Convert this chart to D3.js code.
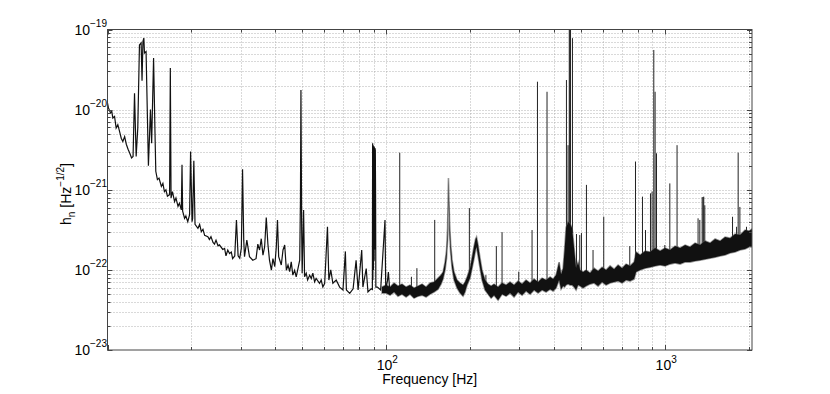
<!DOCTYPE html>
<html>
<head>
<meta charset="utf-8">
<title>Strain noise spectrum</title>
<script src="https://d3js.org/d3.v7.min.js"></script>
<style>
  body { margin: 0; background: #fff; }
  svg text { font-family: "Liberation Sans", Arial, Helvetica, sans-serif; fill: #000; }
</style>
</head>
<body>
<svg id="chart" width="830" height="394"></svg>
<script>
// low frequency trace, [frequency Hz, h_n] (10 - 103 Hz)
var trace = [
  [10.0, 1.21e-20], [10.08, 1.05e-20], [10.25, 9.1e-21], [10.36, 9.5e-21], [10.45, 7.85e-21],
  [10.6, 8.2e-21], [10.74, 5.9e-21], [10.89, 6.5e-21], [11.04, 5.4e-21], [11.2, 4.4e-21],
  [11.35, 4.0e-21], [11.52, 4.6e-21], [11.68, 3.7e-21], [11.85, 3.2e-21], [12.0, 2.9e-21],
  [12.2, 2.5e-21], [12.35, 2.6e-21], [12.5, 1.6e-20], [12.6, 5.4e-21], [12.67, 2.6e-21],
  [12.84, 5.9e-21], [13.02, 6.4e-20], [13.2, 6.8e-20], [13.3, 2.3e-20], [13.4, 7.1e-20],
  [13.5, 7.8e-20], [13.57, 5.1e-20], [13.75, 5.3e-20], [14.02, 2.0e-21], [14.26, 1.0e-20],
  [14.4, 3.8e-21], [14.63, 4.4e-20], [14.79, 5.9e-21], [14.9, 1.7e-21], [15.1, 1.34e-21],
  [15.3, 1.4e-21], [15.6, 1.1e-21], [15.8, 1.2e-21], [16.0, 9.5e-22], [16.2, 1.0e-21],
  [16.4, 8.3e-22], [16.7, 8.7e-22], [16.8, 3.3e-20], [16.9, 7.9e-22], [17.1, 9.5e-22],
  [17.4, 7.1e-22], [17.6, 7.9e-22], [17.9, 6.2e-22], [18.1, 6.8e-22], [18.4, 5.6e-22],
  [18.5, 2.05e-21], [18.6, 5.4e-22], [18.9, 4.4e-22], [19.1, 4.7e-22], [19.4, 4.0e-22],
  [19.7, 4.9e-22], [19.86, 3.0e-21], [20.1, 4.0e-22], [20.2, 4.4e-22], [20.4, 2.3e-21],
  [20.6, 3.7e-22], [21.1, 3.3e-22], [21.4, 3.7e-22], [21.7, 3.0e-22], [22.0, 3.2e-22],
  [22.3, 2.7e-22], [22.9, 2.6e-22], [23.2, 2.4e-22], [23.5, 2.6e-22], [23.9, 2.2e-22],
  [24.2, 2.1e-22], [24.5, 2.35e-22], [24.9, 2.0e-22], [25.2, 2.05e-22], [25.9, 1.8e-22],
  [26.3, 1.85e-22], [26.6, 1.5e-22], [27.0, 1.77e-22], [27.4, 1.6e-22], [27.8, 1.67e-22],
  [28.1, 1.38e-22], [28.6, 1.49e-22], [29.0, 4.2e-22], [29.4, 1.5e-22], [29.8, 1.4e-22],
  [30.2, 1.87e-22], [30.5, 1.8e-21], [30.8, 2.35e-22], [31.0, 1.46e-22], [31.6, 2.35e-22],
  [32.3, 1.46e-22], [33.2, 1.32e-22], [34.1, 1.38e-22], [34.6, 2.1e-22], [35.1, 1.77e-22],
  [35.6, 2.45e-22], [36.1, 1.53e-22], [36.6, 1.93e-22], [37.1, 4.5e-22], [37.6, 2.1e-22],
  [38.1, 1.32e-22], [38.7, 9.9e-23], [39.2, 1.38e-22], [39.8, 1.1e-22], [40.3, 1.93e-22],
  [40.7, 4.2e-22], [41.1, 1.46e-22], [42.0, 1.15e-22], [42.6, 1.77e-22], [43.2, 2.04e-22],
  [43.8, 9.9e-23], [44.4, 1.15e-22], [45.0, 9.5e-23], [45.6, 1.26e-22], [46.2, 8.6e-23],
  [46.9, 9.9e-23], [47.5, 8.2e-23], [48.2, 1.04e-22], [48.9, 1.32e-22], [49.2, 7.5e-22],
  [49.4, 1.76e-20], [49.7, 3.1e-22], [49.9, 9.1e-23], [50.5, 5.6e-22], [50.9, 8.2e-23],
  [51.6, 9.1e-23], [52.2, 7.46e-23], [53.1, 8.6e-23], [53.8, 7.8e-23], [54.5, 9.1e-23],
  [55.3, 7.1e-23], [56.0, 7.8e-23], [57.6, 6.8e-23], [58.4, 7.46e-23], [59.2, 6.1e-23],
  [60.1, 6.8e-23], [61.5, 3.45e-22], [62.2, 7.46e-23], [63.2, 1.0e-22], [64.3, 6.8e-23],
  [66.1, 7.46e-23], [68.0, 6.1e-23], [69.9, 5.6e-23], [71.3, 1.7e-22], [71.9, 5.6e-23],
  [73.9, 5.1e-23], [76.0, 5.8e-23], [77.9, 1.32e-22], [79.2, 5.6e-23], [81.6, 1.77e-22],
  [82.4, 6.1e-23], [84.7, 1.04e-22], [85.9, 5.3e-23], [88.2, 5.8e-23], [89.1, 5.7e-23],
  [89.3, 3.8e-21], [89.5, 7.5e-23], [89.7, 3.6e-21], [89.9, 1.0e-22], [90.2, 3.5e-21],
  [90.4, 1.3e-22], [90.6, 3.4e-21], [90.8, 1.8e-22], [91.0, 3.3e-21], [91.3, 3.1e-21],
  [91.5, 8.0e-22], [91.7, 6.1e-23], [92.9, 6.1e-23], [95.4, 5.6e-23], [98.9, 4.2e-22],
  [99.5, 5.6e-23], [101.0, 7.46e-23], [101.7, 9.4e-23], [102.8, 5.6e-23]
];

// dense noise band above ~95 Hz: frequency, upper edge, lower edge
var bandFreq = [96.5, 99.75, 103.1, 106.6, 110.1, 113.8, 117.7, 121.6, 125.7, 130.0,
  134.3, 138.8, 143.5, 148.3, 153.3, 157.1, 159.7, 162.4, 164.4, 165.8,
  166.5, 167.0, 167.6, 168.6, 170.0, 172.1, 174.9, 179.3, 183.8, 188.4,
  191.5, 194.8, 199.6, 203.0, 206.4, 208.9, 210.6, 213.3, 216.8, 220.4,
  225.9, 231.6, 237.5, 243.4, 251.6, 260.0, 268.7, 277.7, 287.1, 296.8,
  306.7, 317.0, 327.7, 338.7, 350.1, 361.8, 374.0, 386.6, 396.3, 406.2,
  416.4, 423.3, 430.4, 435.7, 441.1, 448.5, 456.0, 463.6, 471.3, 479.1,
  487.1, 495.2, 507.6, 520.4, 537.9, 555.9, 574.6, 593.9, 613.8, 634.5,
  655.8, 677.8, 700.6, 724.1, 748.4, 773.6, 786.5, 813.0, 847.3, 883.0,
  920.2, 959.0, 999.2, 1041, 1085, 1131, 1179, 1228, 1280, 1334,
  1390, 1449, 1510, 1574, 1640, 1709, 1781, 1856, 1934, 1999, 2048];
var bandHigh = [6.10e-23, 6.46e-23, 6.10e-23, 6.84e-23, 6.27e-23, 6.64e-23, 6.10e-23, 6.46e-23, 5.92e-23, 6.27e-23,
  6.64e-23, 6.10e-23, 6.84e-23, 7.04e-23, 7.89e-23, 8.60e-23, 9.38e-23, 1.25e-22, 1.77e-22, 3.33e-22,
  7.43e-22, 1.40e-21, 8.59e-22, 3.95e-22, 2.16e-22, 1.32e-22, 9.38e-23, 7.45e-23, 6.84e-23, 6.46e-23,
  7.04e-23, 8.13e-23, 1.05e-22, 1.44e-22, 1.98e-22, 2.43e-22, 2.57e-22, 2.04e-22, 1.40e-22, 9.93e-23,
  7.45e-23, 6.64e-23, 6.27e-23, 6.64e-23, 6.10e-23, 6.84e-23, 6.46e-23, 7.04e-23, 6.46e-23, 7.24e-23,
  6.64e-23, 7.45e-23, 6.84e-23, 7.67e-23, 7.04e-23, 7.89e-23, 7.45e-23, 8.13e-23, 7.67e-23, 8.60e-23,
  1.25e-22, 8.85e-23, 1.05e-22, 1.77e-22, 3.33e-22, 3.95e-22, 3.73e-22, 3.33e-22, 1.87e-22, 1.05e-22,
  1.25e-22, 9.93e-23, 9.38e-23, 9.93e-23, 9.12e-23, 1.05e-22, 9.65e-23, 1.08e-22, 9.93e-23, 1.12e-22,
  1.02e-22, 1.15e-22, 1.05e-22, 1.18e-22, 1.12e-22, 1.25e-22, 1.67e-22, 1.53e-22, 1.72e-22, 1.67e-22,
  1.87e-22, 1.72e-22, 1.87e-22, 1.77e-22, 1.98e-22, 1.87e-22, 2.04e-22, 1.93e-22, 2.16e-22, 2.04e-22,
  2.29e-22, 2.16e-22, 2.43e-22, 2.29e-22, 2.57e-22, 2.49e-22, 2.80e-22, 2.72e-22, 3.14e-22, 3.05e-22, 3.23e-22];
var bandLow = [5.13e-23, 5.13e-23, 4.84e-23, 5.28e-23, 4.70e-23, 4.98e-23, 4.57e-23, 4.98e-23, 4.44e-23, 4.70e-23,
  4.84e-23, 4.57e-23, 4.98e-23, 5.28e-23, 5.75e-23, 6.64e-23, 7.67e-23, 9.93e-23, 1.40e-22, 2.35e-22,
  4.83e-22, 1.11e-21, 5.58e-22, 2.72e-22, 1.67e-22, 1.05e-22, 7.45e-23, 5.92e-23, 5.13e-23, 4.70e-23,
  5.28e-23, 6.46e-23, 7.89e-23, 1.05e-22, 1.40e-22, 1.77e-22, 1.93e-22, 1.49e-22, 1.05e-22, 7.45e-23,
  5.59e-23, 4.98e-23, 4.44e-23, 4.84e-23, 4.19e-23, 4.98e-23, 4.70e-23, 5.13e-23, 4.57e-23, 5.28e-23,
  4.84e-23, 5.43e-23, 4.98e-23, 5.59e-23, 5.13e-23, 5.59e-23, 5.28e-23, 5.75e-23, 5.43e-23, 5.92e-23,
  7.45e-23, 5.75e-23, 6.27e-23, 6.10e-23, 6.46e-23, 6.64e-23, 6.46e-23, 6.46e-23, 6.10e-23, 5.59e-23,
  6.46e-23, 6.27e-23, 5.92e-23, 6.27e-23, 6.64e-23, 6.84e-23, 6.27e-23, 7.04e-23, 6.46e-23, 6.84e-23,
  7.04e-23, 7.24e-23, 6.84e-23, 7.45e-23, 7.24e-23, 7.67e-23, 9.38e-23, 9.93e-23, 1.05e-22, 1.08e-22,
  1.12e-22, 1.15e-22, 1.12e-22, 1.18e-22, 1.22e-22, 1.18e-22, 1.25e-22, 1.25e-22, 1.29e-22, 1.32e-22,
  1.36e-22, 1.40e-22, 1.44e-22, 1.49e-22, 1.53e-22, 1.62e-22, 1.67e-22, 1.77e-22, 1.82e-22, 1.93e-22, 1.93e-22];

// narrow spectral lines above 100 Hz: frequency and peak height
var lineFreq = [111.7, 123, 128.7, 149.1, 198.5, 227.5, 248, 260, 298.4, 333.1,
  348.3, 376.9, 442.5, 448.4, 452.9, 455.1, 457.7, 465.0, 480.7, 493.9,
  500.8, 521.9, 551.1, 602.1, 746.4, 782.5, 829, 850, 885.6, 897.5,
  910.2, 920.1, 930.8, 996.8, 1039, 1103, 1312, 1331, 1357, 1368,
  1375, 1387, 1744, 1803, 1827, 1853, 1957];
var lineTop = [2.9e-21, 8.2e-23, 1.05e-22, 4.2e-22, 5.9e-22, 8.6e-23, 1.98e-22, 2.96e-22, 9.5e-23, 3.14e-22,
  2.23e-20, 1.67e-20, 2.34e-20, 3.6e-21, 1.6e-19, 1.3e-19, 1.2e-19, 7.8e-20, 2.8e-22, 2.72e-22,
  2.88e-22, 1.15e-21, 1.77e-22, 4.6e-22, 1.98e-22, 2.25e-21, 8.2e-22, 3.14e-22, 9.0e-22, 9.5e-22,
  5.55e-20, 1.67e-20, 2.85e-21, 2.04e-22, 1.2e-21, 3.6e-21, 4.4e-22, 4.2e-22, 8.1e-22, 8.1e-22,
  8.2e-22, 6.4e-22, 4.6e-22, 3.45e-22, 2.9e-21, 6.1e-22, 3.45e-22];

var xTickValues = [100, 1000];
var yTickValues = [1e-23, 1e-22, 1e-21, 1e-20, 1e-19];

var plot = {left: 107.5, right: 752, top: 29.5, bottom: 350};

var x = d3.scaleLog().domain([10, 2048]).range([plot.left, plot.right]);
var y = d3.scaleLog().domain([1e-23, 1e-19]).range([plot.bottom, plot.top]);

var svg = d3.select("#chart");

svg.append("defs").append("clipPath").attr("id", "clip")
  .append("rect")
  .attr("x", plot.left).attr("y", plot.top)
  .attr("width", plot.right - plot.left).attr("height", plot.bottom - plot.top);

function isMajor(d) {
  var l = Math.log10(d);
  return Math.abs(l - Math.round(l)) < 1e-6;
}
function snap(v) { return Math.round(v) + 0.5; }

// dotted grid at every major and minor tick
var grid = svg.append("g");
grid.selectAll("line.gx")
  .data(x.ticks().filter(function(d) { return d > 10; }))
  .enter().append("line")
  .attr("x1", function(d) { return snap(x(d)); })
  .attr("x2", function(d) { return snap(x(d)); })
  .attr("y1", plot.top).attr("y2", plot.bottom)
  .attr("stroke", "#a0a0a0").attr("stroke-width", 0.8)
  .attr("stroke-dasharray", "1,2");
grid.selectAll("line.gy")
  .data(y.ticks().filter(function(d) { return d > 1.01e-23 && d < 0.99e-19; }))
  .enter().append("line")
  .attr("y1", function(d) { return snap(y(d)); })
  .attr("y2", function(d) { return snap(y(d)); })
  .attr("x1", plot.left).attr("x2", plot.right)
  .attr("stroke", "#a0a0a0").attr("stroke-width", 0.8)
  .attr("stroke-dasharray", "1,2");

var data = svg.append("g").attr("clip-path", "url(#clip)");

// base of each line = upper edge of the band, looked up through a piecewise scale
var floorAt = d3.scaleLog().domain(bandFreq).range(bandHigh).clamp(true);

data.selectAll("line.spike")
  .data(lineFreq)
  .enter().append("line")
  .attr("x1", function(d) { return x(d); })
  .attr("x2", function(d) { return x(d); })
  .attr("y1", function(d) { return y(floorAt(d)) + 2; })
  .attr("y2", function(d, i) { return y(lineTop[i]); })
  .attr("stroke", "#222").attr("stroke-width", 1);

var area = d3.area()
  .x(function(d, i) { return x(bandFreq[i]); })
  .y0(function(d, i) { return y(bandLow[i]); })
  .y1(function(d, i) { return y(bandHigh[i]); });
// soft outer edge, then the dark core
data.append("path")
  .attr("d", area(bandFreq))
  .attr("fill", "none").attr("stroke", "#555").attr("stroke-opacity", 0.6).attr("stroke-width", 1.6);
data.append("path")
  .attr("d", area(bandFreq))
  .attr("fill", "#111").attr("stroke", "none");

var line = d3.line()
  .x(function(d) { return x(d[0]); })
  .y(function(d) { return y(d[1]); });
data.append("path")
  .attr("d", line(trace))
  .attr("fill", "none").attr("stroke", "#111").attr("stroke-width", 1.2);

// axes box
svg.append("rect")
  .attr("x", plot.left).attr("y", plot.top)
  .attr("width", plot.right - plot.left).attr("height", plot.bottom - plot.top)
  .attr("fill", "none").attr("stroke", "#444").attr("stroke-width", 1);

// inward ticks on all four sides
var ticks = svg.append("g").attr("stroke", "#444").attr("stroke-width", 1);
x.ticks().forEach(function(d) {
  var len = isMajor(d) ? 5 : 3, px = snap(x(d));
  ticks.append("line").attr("x1", px).attr("x2", px).attr("y1", plot.bottom).attr("y2", plot.bottom - len);
  ticks.append("line").attr("x1", px).attr("x2", px).attr("y1", plot.top).attr("y2", plot.top + len);
});
y.ticks().forEach(function(d) {
  var len = isMajor(d) ? 5 : 3, py = snap(y(d));
  ticks.append("line").attr("y1", py).attr("y2", py).attr("x1", plot.left).attr("x2", plot.left + len);
  ticks.append("line").attr("y1", py).attr("y2", py).attr("x1", plot.right).attr("x2", plot.right - len);
});

// tick labels, 10 with a raised exponent
svg.selectAll("text.xt")
  .data(xTickValues)
  .enter().append("text")
  .attr("x", function(d) { return x(d) + 1; })
  .attr("y", 370)
  .attr("text-anchor", "middle")
  .style("font-size", "14px")
  .each(function(d) {
    var t = d3.select(this);
    t.append("tspan").text("10");
    t.append("tspan").attr("dy", -7).style("font-size", "10px").text(Math.round(Math.log10(d)));
  });

svg.selectAll("text.yt")
  .data(yTickValues)
  .enter().append("text")
  .attr("x", 107)
  .attr("y", function(d) { return y(d) + 5; })
  .attr("text-anchor", "end")
  .style("font-size", "14px")
  .each(function(d) {
    var t = d3.select(this);
    t.append("tspan").text("10");
    t.append("tspan").attr("dy", -8).style("font-size", "10px")
      .text("\u2212" + Math.abs(Math.round(Math.log10(d))));
  });

// axis titles
svg.append("text")
  .attr("x", (plot.left + plot.right) / 2)
  .attr("y", 384)
  .attr("text-anchor", "middle")
  .style("font-size", "14px")
  .text("Frequency [Hz]");

var ylab = svg.append("text")
  .attr("transform", "translate(71,194) rotate(-90)")
  .attr("text-anchor", "middle")
  .style("font-size", "14px");
ylab.append("tspan").text("h");
ylab.append("tspan").attr("dy", 4).style("font-size", "10px").text("n");
ylab.append("tspan").attr("dy", -4).text(" [Hz");
ylab.append("tspan").attr("dy", -7).style("font-size", "10px").text("\u22121/2");
ylab.append("tspan").attr("dy", 7).text("]");
</script>
</body>
</html>
